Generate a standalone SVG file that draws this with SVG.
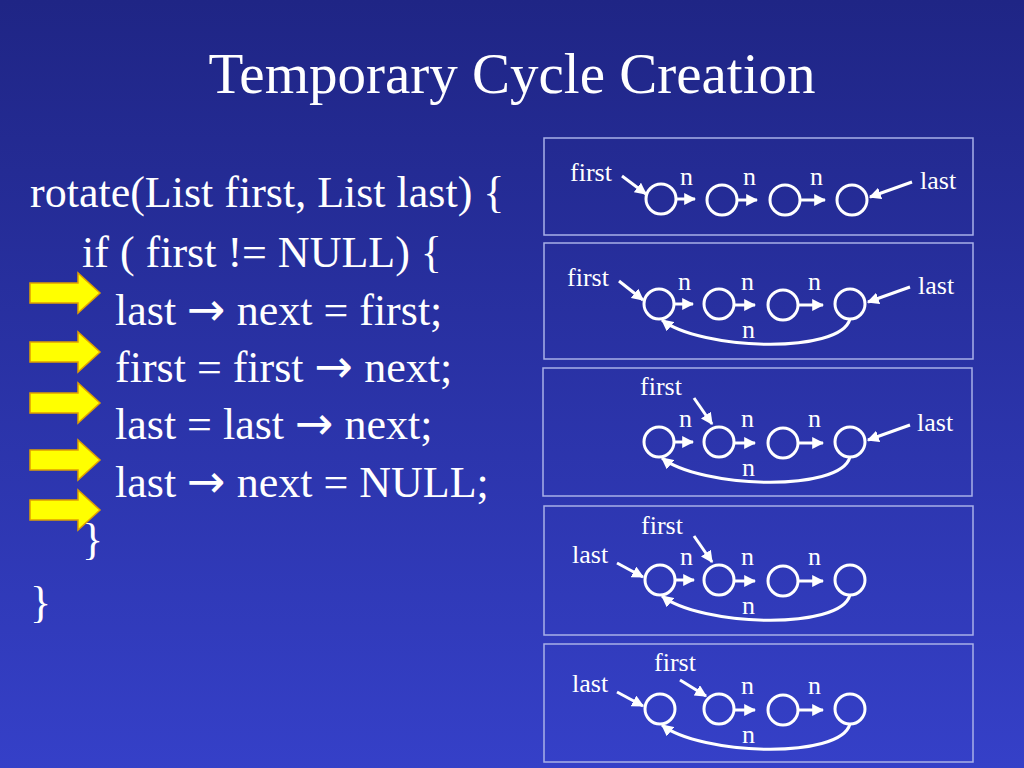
<svg xmlns="http://www.w3.org/2000/svg" width="1024" height="768" viewBox="0 0 1024 768">
<defs>
<linearGradient id="bg" x1="0" y1="0" x2="0" y2="1"><stop offset="0" stop-color="#1f2585"/><stop offset="1" stop-color="#3540c8"/></linearGradient>
<marker id="ah" viewBox="0 0 10 10" refX="9" refY="5" markerWidth="4" markerHeight="4" orient="auto"><path d="M0,0L10,5L0,10z" fill="#fff"/></marker>
<path id="ya" d="M30,-10H78V-20L100,0L78,20V10H30Z"/>
</defs>
<style>
text{font-family:"Liberation Serif","Times New Roman",serif;fill:#fff}
.code{font-size:44px}
.ar{font-family:"DejaVu Sans",sans-serif;font-size:46px}
.s{font-size:26px}
.box{fill:none;stroke:#a8b0e8;stroke-width:1.5}
.nd{fill:none;stroke:#fff;stroke-width:3}
.c{fill:none;stroke:#fff;stroke-width:3;marker-end:url(#ah)}
.yel{fill:#ffff00;stroke:#e0a000;stroke-width:1.5}
</style>
<rect width="1024" height="768" fill="url(#bg)"/>
<text x="512" y="93" text-anchor="middle" font-size="57">Temporary Cycle Creation</text>
<g id="code">
<text class="code" x="30" y="207">rotate(List first, List last) {</text>
<text class="code" x="82" y="267">if ( first != NULL) {</text>
<text class="code" x="115" y="325">last <tspan class="ar">→</tspan> next = first;</text>
<text class="code" x="115" y="382">first = first <tspan class="ar">→</tspan> next;</text>
<text class="code" x="115" y="439">last = last <tspan class="ar">→</tspan> next;</text>
<text class="code" x="115" y="497">last <tspan class="ar">→</tspan> next = NULL;</text>
<text class="code" x="82" y="554">}</text>
<text class="code" x="30" y="617">}</text>
</g>
<g id="pointers">
<use href="#ya" class="yel" transform="translate(0,293)"/>
<use href="#ya" class="yel" transform="translate(0,352)"/>
<use href="#ya" class="yel" transform="translate(0,403)"/>
<use href="#ya" class="yel" transform="translate(0,460)"/>
<use href="#ya" class="yel" transform="translate(0,510)"/>
</g>
<g id="panel1">
<rect class="box" x="544" y="138" width="429" height="97"/>
<circle class="nd" cx="661" cy="199" r="15"/><circle class="nd" cx="722" cy="200" r="15"/><circle class="nd" cx="785" cy="200" r="15"/><circle class="nd" cx="852" cy="200" r="15"/>
<text class="s" x="570" y="181">first</text><text class="s" x="920" y="189">last</text>
<text class="s" x="680" y="185">n</text><text class="s" x="743" y="185">n</text><text class="s" x="810" y="185">n</text>
</g>
<g id="panel2">
<rect class="box" x="544" y="243" width="429" height="116"/>
<circle class="nd" cx="659" cy="304" r="15"/><circle class="nd" cx="719" cy="304" r="15"/><circle class="nd" cx="783" cy="305" r="15"/><circle class="nd" cx="850" cy="304" r="15"/>
<text class="s" x="567" y="286">first</text><text class="s" x="918" y="294">last</text>
<text class="s" x="678" y="290">n</text><text class="s" x="741" y="290">n</text><text class="s" x="808" y="290">n</text><text class="s" x="742" y="338">n</text>
</g>
<g id="panel3">
<rect class="box" x="543" y="368" width="429" height="128"/>
<circle class="nd" cx="659" cy="442" r="15"/><circle class="nd" cx="719" cy="442" r="15"/><circle class="nd" cx="783" cy="443" r="15"/><circle class="nd" cx="850" cy="442" r="15"/>
<text class="s" x="640" y="395">first</text><text class="s" x="917" y="431">last</text>
<text class="s" x="679" y="427">n</text><text class="s" x="741" y="427">n</text><text class="s" x="808" y="427">n</text><text class="s" x="742" y="476">n</text>
</g>
<g id="panel4">
<rect class="box" x="544" y="506" width="429" height="129"/>
<circle class="nd" cx="660" cy="580" r="15"/><circle class="nd" cx="719" cy="580" r="15"/><circle class="nd" cx="783" cy="581" r="15"/><circle class="nd" cx="850" cy="580" r="15"/>
<text class="s" x="641" y="534">first</text><text class="s" x="572" y="563">last</text>
<text class="s" x="680" y="565">n</text><text class="s" x="741" y="565">n</text><text class="s" x="808" y="565">n</text><text class="s" x="742" y="614">n</text>
</g>
<g id="panel5">
<rect class="box" x="544" y="644" width="429" height="118"/>
<circle class="nd" cx="660" cy="709" r="15"/><circle class="nd" cx="719" cy="709" r="15"/><circle class="nd" cx="783" cy="710" r="15"/><circle class="nd" cx="850" cy="709" r="15"/>
<text class="s" x="654" y="671">first</text><text class="s" x="572" y="692">last</text>
<text class="s" x="741" y="694">n</text><text class="s" x="808" y="694">n</text><text class="s" x="742" y="743">n</text>
</g>
<g id="connectors">
<path class="c" d="M622,176L646,194"/><path class="c" d="M677,199H695"/><path class="c" d="M738,200H757"/><path class="c" d="M801,200H825"/><path class="c" d="M912,182L870,197"/>
<path class="c" d="M619,281L643,300"/><path class="c" d="M675,304H693"/><path class="c" d="M735,305H755"/><path class="c" d="M799,305H823"/><path class="c" d="M910,287L868,302"/>
<path class="c" d="M850,319C840,355 700,350 662,320"/>
<path class="c" d="M694,398L712,424"/><path class="c" d="M675,442H693"/><path class="c" d="M735,443H755"/><path class="c" d="M799,443H823"/><path class="c" d="M910,425L868,440"/>
<path class="c" d="M850,457C840,493 700,488 662,458"/>
<path class="c" d="M694,536L712,562"/><path class="c" d="M617,563L643,577"/><path class="c" d="M676,580H694"/><path class="c" d="M735,581H755"/><path class="c" d="M799,581H823"/>
<path class="c" d="M850,595C840,631 700,626 662,596"/>
<path class="c" d="M680,680L706,696"/><path class="c" d="M617,692L643,706"/><path class="c" d="M735,710H755"/><path class="c" d="M799,710H823"/>
<path class="c" d="M850,724C840,760 700,755 662,725"/>
</g>
</svg>
